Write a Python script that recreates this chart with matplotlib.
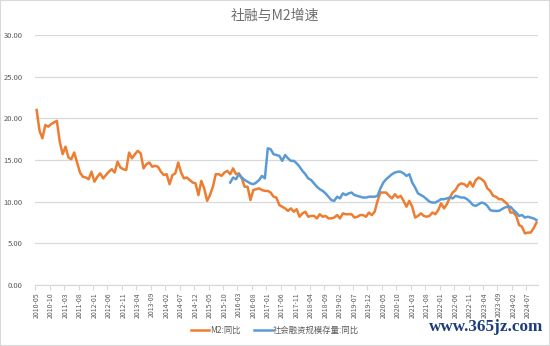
import numpy as np
import pandas as pd
import matplotlib
matplotlib.use("Agg")
from matplotlib import pyplot as plt
from matplotlib.patches import Rectangle
from matplotlib.ticker import FixedLocator

plt.rcParams['font.family'] = ['Noto Sans CJK SC', 'DejaVu Sans']

# monthly categories 2010-05 .. 2024-10
months = pd.period_range('2010-05', '2024-10', freq='M').strftime('%Y-%m').tolist()

# M2 同比 (%)
m2 = [
    21.0, 18.5, 17.6, 19.2, 19.0, 19.3, 19.5, 19.7,                  # 2010
    17.2, 15.7, 16.6, 15.3, 15.1, 15.9, 14.7, 13.5, 13.0, 12.9, 12.7, 13.6,  # 2011
    12.4, 13.0, 13.4, 12.8, 13.2, 13.6, 13.9, 13.5, 14.8, 14.1, 13.9, 13.8,  # 2012
    15.9, 15.2, 15.7, 16.1, 15.8, 14.0, 14.5, 14.7, 14.2, 14.3, 14.2, 13.6,  # 2013
    13.2, 13.3, 12.1, 13.2, 13.4, 14.7, 13.5, 12.8, 12.9, 12.6, 12.3, 12.2,  # 2014
    10.8, 12.5, 11.6, 10.1, 10.8, 11.8, 13.3, 13.3, 13.1, 13.5, 13.7, 13.3,  # 2015
    14.0, 13.3, 13.4, 12.8, 11.8, 11.8, 10.2, 11.4, 11.5, 11.6, 11.4, 11.3,  # 2016
    11.3, 11.1, 10.6, 10.5, 9.6, 9.4, 9.2, 8.9, 9.2, 8.8, 9.1, 8.2,          # 2017
    8.6, 8.8, 8.2, 8.3, 8.3, 8.0, 8.5, 8.2, 8.3, 8.0, 8.0, 8.1,              # 2018
    8.4, 8.0, 8.6, 8.5, 8.5, 8.5, 8.1, 8.2, 8.4, 8.4, 8.2, 8.7,              # 2019
    8.4, 8.8, 10.1, 11.1, 11.1, 11.1, 10.7, 10.4, 10.9, 10.5, 10.7, 10.1,    # 2020
    9.4, 10.1, 9.4, 8.1, 8.3, 8.6, 8.3, 8.2, 8.3, 8.7, 8.5, 9.0,             # 2021
    9.8, 9.2, 9.7, 10.5, 11.1, 11.4, 12.0, 12.2, 12.1, 11.8, 12.4, 11.8,     # 2022
    12.6, 12.9, 12.7, 12.4, 11.6, 11.3, 10.7, 10.6, 10.3, 10.3, 10.0, 9.7,   # 2023
    8.7, 8.7, 8.3, 7.2, 7.0, 6.2, 6.3, 6.3, 6.8, 7.5,                        # 2024
]

# 社会融资规模存量 同比 (%), series begins 2015-12
tsf_start = '2015-12'
tsf = [
    12.3,                                                                    # 2015-12
    12.9, 12.7, 13.3, 12.9, 12.6, 12.4, 12.2, 12.1, 12.3, 12.6, 13.1, 12.8,  # 2016
    16.4, 16.3, 15.7, 15.6, 15.5, 14.9, 15.6, 15.2, 14.9, 14.9, 14.6, 14.2,  # 2017
    13.7, 13.3, 12.8, 12.6, 12.2, 11.8, 11.5, 11.3, 11.0, 10.6, 10.2, 10.1,  # 2018
    10.6, 10.4, 11.0, 10.8, 11.0, 11.1, 10.8, 10.7, 10.6, 10.5, 10.5, 10.6,  # 2019
    10.6, 10.6, 10.7, 11.6, 12.3, 12.7, 13.0, 13.3, 13.5, 13.6, 13.6, 13.4,  # 2020
    13.1, 13.3, 12.3, 11.7, 11.0, 10.8, 10.6, 10.3, 10.0, 9.9, 9.9, 10.1,    # 2021
    10.3, 10.3, 10.4, 10.5, 10.4, 10.7, 10.6, 10.5, 10.5, 10.3, 10.0, 9.6,   # 2022
    9.5, 9.7, 9.9, 9.8, 9.5, 9.0, 8.9, 8.9, 8.9, 9.1, 9.3, 9.4,              # 2023
    9.4, 9.0, 8.7, 8.3, 8.4, 8.1, 8.2, 8.1, 8.0, 7.8,                        # 2024
]

label_m2 = 'M2:同比'
label_tsf = '社会融资规模存量:同比'
title = '社融与M2增速'

x = np.arange(len(months))
tsf_full = np.full(len(months), np.nan)
i0 = months.index(tsf_start)
tsf_full[i0:i0 + len(tsf)] = tsf

grid_c = '#D9D9D9'
text_c = '#595959'

fig = plt.figure(figsize=(5.5, 3.46), dpi=100)
ax = fig.add_axes([0.064, 0.176, 0.914, 0.723])

ax.plot(x, m2, color='#ED7D31', lw=1.8, label=label_m2, solid_joinstyle='round')
ax.plot(x, tsf_full, color='#5B9BD5', lw=1.8, label=label_tsf, solid_joinstyle='round')

ax.set_xlim(-0.5, len(months) - 0.5)
ax.set_ylim(0, 30)
ax.set_yticks(np.arange(0, 31, 5))
ax.set_yticklabels([f'{v:.2f}' for v in np.arange(0, 31, 5)])
ax.yaxis.grid(True, color=grid_c, lw=0.9)
ax.set_axisbelow(True)

ax.set_xticks(x[::5])
ax.set_xticklabels(months[::5], rotation=90)
ax.xaxis.set_minor_locator(FixedLocator(np.arange(-0.5, len(months), 5)))
ax.tick_params(axis='x', which='major', length=0, pad=5, labelsize=5, labelcolor=text_c)
ax.tick_params(axis='x', which='minor', length=3.5, color=grid_c, width=0.8)
ax.tick_params(axis='y', length=0, pad=9, labelsize=5.5, labelcolor=text_c)

for s in ['top', 'right', 'left']:
    ax.spines[s].set_visible(False)
ax.spines['bottom'].set_color(grid_c)
ax.spines['bottom'].set_linewidth(0.9)

fig.text(0.5, 0.955, title, ha='center', va='center', fontsize=10, color='#6E6E6E')

fig.legend(loc='center', bbox_to_anchor=(0.5, 0.046), ncol=2, frameon=False,
           fontsize=6, labelcolor=text_c, handlelength=2.2, handletextpad=0.1,
           columnspacing=1.6)

# watermark
fig.text(0.987, 0.055, 'www.365jz.com', ha='right', va='center', fontsize=12.3,
         color='#1C3D7A', fontweight='bold', family='Liberation Serif')

fig.patches.append(Rectangle((0, 0), 1, 1, transform=fig.transFigure, fill=False,
                             edgecolor=grid_c, lw=1.5))

fig.savefig('out.png', dpi=100)
